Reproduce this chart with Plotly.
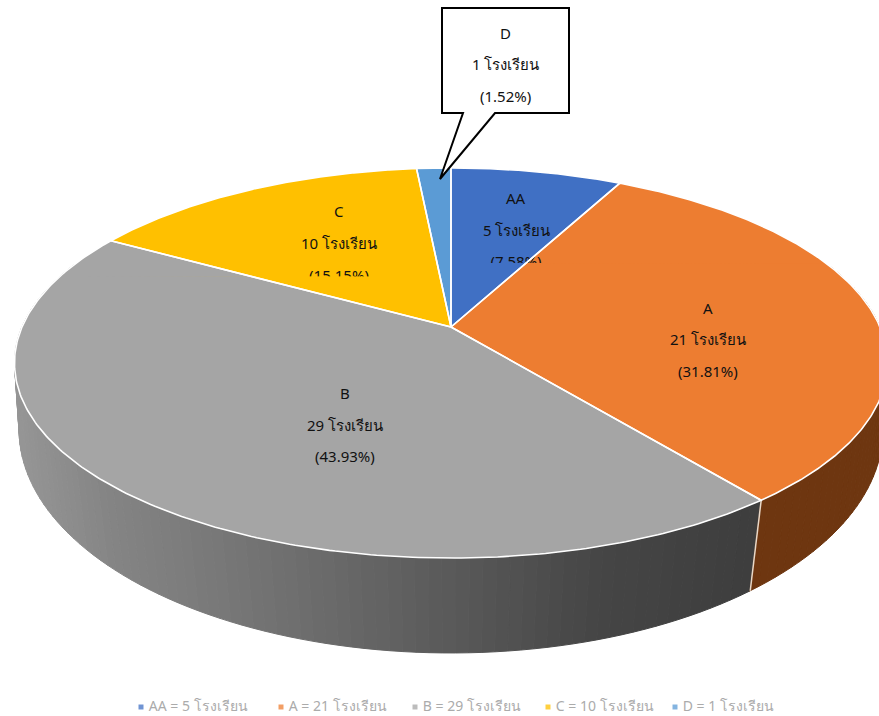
import numpy as np
import plotly.graph_objects as go

# ---- data ----
CATEGORIES = ["AA", "A", "B", "C", "D"]
SCHOOLS = [5, 21, 29, 10, 1]
PERCENT_TEXT = ["(7.58%)", "(31.81%)", "(43.93%)", "(15.15%)", "(1.52%)"]
COLORS = ["#4070C4", "#ED7D31", "#A5A5A5", "#FFC000", "#5B9BD5"]
UNIT = "โรงเรียน"

# ---- view (perspective of the tilted pie) ----
W, H = 879, 716
CX = 451
TOP = dict(R=429, H=188.4, cy=327, p=0.1846)
BOT = dict(R=427, H=218, cy=396.5, p=0.15)
FONT = "Tahoma, 'Noto Sans', 'DejaVu Sans', sans-serif"
LABEL_SIZE = 15


def project(theta, r, v):
    u_, v_ = r * np.sin(theta), r * np.cos(theta)
    d = 1 + v["p"] * v_
    return CX + v["R"] * u_ / d, v["cy"] - v["H"] * v_ / d


vals = np.array(SCHOOLS, dtype=float)
edges = np.concatenate([[0], np.cumsum(vals)]) / vals.sum() * 2 * np.pi


def wedge(i):
    n = 160
    rr = np.linspace(0, 1, n)
    th = np.linspace(edges[i], edges[i + 1], 240)
    xa, ya = project(np.full(n, edges[i]), rr, TOP)
    xb, yb = project(th, np.ones_like(th), TOP)
    xc, yc = project(np.full(n, edges[i + 1]), rr[::-1], TOP)
    return np.concatenate([xa, xb, xc]), np.concatenate([ya, yb, yc])


def fill_trace(x, y, color, line=0):
    return go.Scatter(x=x, y=y, mode="lines", fill="toself", fillcolor=color,
                      line=dict(color=color, width=line), hoverinfo="skip", showlegend=False)


fig = go.Figure()

# side wall, shaded along the rim
SHADE_X = [15, 100, 250, 450, 600, 760]
SHADE_G = [150, 134, 116, 90, 70, 62]
thetas = np.radians(np.arange(70, 292, 1.5))
for a, b in zip(thetas[:-1], thetas[1:]):
    tt = np.array([a, b])
    xt, yt = project(tt, np.ones(2), TOP)
    xb, yb = project(tt, np.ones(2), BOT)
    mid = (a + b) / 2
    if edges[1] <= mid < edges[2]:
        col = "#6E3610"
    else:
        g = int(np.interp(xt.mean(), SHADE_X, SHADE_G))
        col = f"rgb({g},{g},{g})"
    fig.add_trace(fill_trace([xt[0], xt[1], xb[1], xb[0], xt[0]],
                             [yt[0], yt[1], yb[1], yb[0], yt[0]], col, line=1))

# seam on the wall between A and B
sx1, sy1 = project(np.array([edges[2]]), np.ones(1), TOP)
sx2, sy2 = project(np.array([edges[2]]), np.ones(1), BOT)
fig.add_trace(go.Scatter(x=[sx1[0], sx2[0]], y=[sy1[0], sy2[0]], mode="lines",
                         line=dict(color="#E8D8C8", width=1.5), hoverinfo="skip", showlegend=False))

# top face
for i in range(len(vals)):
    x, y = wedge(i)
    fig.add_trace(fill_trace(x, y, COLORS[i]))


def text_trace(x, y, text):
    return go.Scatter(x=[x], y=[y], mode="text", text=[text], textposition="middle center",
                      textfont=dict(family=FONT, size=LABEL_SIZE, color="#111111"),
                      hoverinfo="skip", showlegend=False)


# last lines of AA and C are cut off at the bottom of their label boxes
fig.add_trace(text_trace(339, 277, PERCENT_TEXT[3]))
for i in (3, 2):
    x, y = wedge(i)
    fig.add_trace(fill_trace(x, np.maximum(y, 276), COLORS[i]))
fig.add_trace(text_trace(516, 263, PERCENT_TEXT[0]))
for i in (0, 1):
    x, y = wedge(i)
    fig.add_trace(fill_trace(x, np.maximum(y, 263), COLORS[i]))

# white slice borders
for i in range(len(vals)):
    x, y = wedge(i)
    fig.add_trace(go.Scatter(x=x, y=y, mode="lines", line=dict(color="#FFFFFF", width=1.6),
                             hoverinfo="skip", showlegend=False))

# labels
LABEL_XY = {"AA": (516, [198, 230]), "A": (708, [308, 339, 371]), "B": (345, [393, 425, 456]),
            "C": (339, [211, 243]), "D": (505, [33, 64, 96])}
annotations = []
for i, c in enumerate(CATEGORIES):
    lx, lys = LABEL_XY[c]
    lines = [c, f"{SCHOOLS[i]} {UNIT}", PERCENT_TEXT[i]]
    for ly, t in zip(lys, lines):
        annotations.append(dict(x=lx, y=ly, text=t, showarrow=False, xanchor="center", yanchor="middle",
                                font=dict(family=FONT, size=LABEL_SIZE, color="#111111")))

# callout of D
shapes = [dict(type="path", layer="above",
               path="M442,8 L569,8 L569,113 L495,113 L440,179 L463,113 L442,113 Z",
               fillcolor="#FFFFFF", line=dict(color="#000000", width=2))]

# legend row
LEGEND_X = [141, 281, 415, 548, 675]
for i, c in enumerate(CATEGORIES):
    fig.add_trace(go.Scatter(x=[LEGEND_X[i]], y=[707], mode="markers+text",
                             marker=dict(symbol="square", size=5, color=COLORS[i], opacity=0.75),
                             text=[f" {c} = {SCHOOLS[i]} {UNIT}"], textposition="middle right",
                             textfont=dict(family=FONT, size=14, color="#ABABAB"),
                             hoverinfo="skip", showlegend=False))

fig.update_layout(width=W, height=H, margin=dict(l=0, r=0, t=0, b=0), autosize=False,
                  paper_bgcolor="#FFFFFF", plot_bgcolor="#FFFFFF", showlegend=False,
                  xaxis=dict(range=[0, W], visible=False, fixedrange=True),
                  yaxis=dict(range=[H, 0], visible=False, fixedrange=True),
                  annotations=annotations, shapes=shapes)

fig.write_html("out.html", config={"displayModeBar": False},
               post_script="document.body.style.margin='0';document.documentElement.style.overflow='hidden';")
